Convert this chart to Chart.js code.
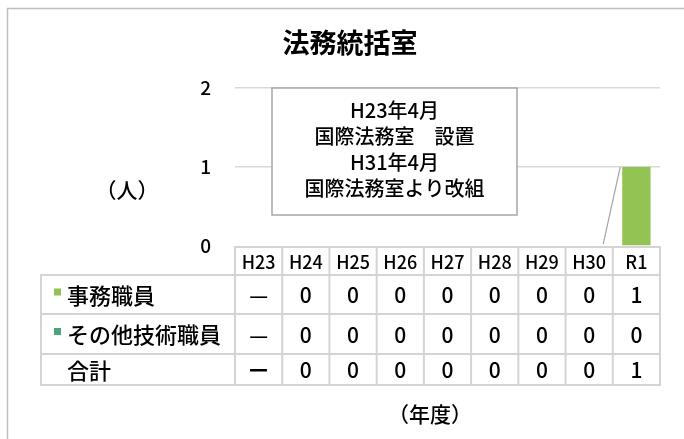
<!DOCTYPE html>
<html lang="ja">
<head>
<meta charset="utf-8">
<script src="https://cdn.jsdelivr.net/npm/chart.js@4"></script>
<style>
  html, body { margin: 0; padding: 0; background: #fff; }
  #wrap { position: relative; width: 684px; height: 439px; }
</style>
</head>
<body>
<div id="wrap"><canvas id="chart" width="684" height="439"></canvas></div>
<script>
// --- Data ---
const years = ['H23', 'H24', 'H25', 'H26', 'H27', 'H28', 'H29', 'H30', 'R1'];
const clerical = [null, 0, 0, 0, 0, 0, 0, 0, 1];
const technical = [null, 0, 0, 0, 0, 0, 0, 0, 0];
const totals = [null, 0, 0, 0, 0, 0, 0, 0, 1];
const rowLabels = ['事務職員', 'その他技術職員', '合計'];
const emptyMarks = ['—', '—', 'ー'];
const yTicks = [0, 1, 2];
const noteLines = ['H23年4月', '国際法務室　設置', 'H31年4月', '国際法務室より改組'];
const chartTitle = '法務統括室';

const FONT = "'Noto Sans CJK JP', 'Noto Sans', sans-serif";
const colors = ['#92c353', '#4aa57a'];

// --- Plugin: frame, title, axis captions, note box and data table ---
const extras = {
    id: 'extras',
    afterDraw(chart) {
        const ctx = chart.ctx;
        const area = chart.chartArea;
        const x = chart.scales.x;
        const y = chart.scales.y;
        const colW = x.getPixelForValue(1) - x.getPixelForValue(0);

        ctx.save();
        // outer frame
        ctx.strokeStyle = '#bfbfbf';
        ctx.lineWidth = 1.5;
        ctx.strokeRect(7.5, 8.5, 720, 500);

        ctx.fillStyle = '#000';
        ctx.textAlign = 'center';
        ctx.textBaseline = 'middle';
        // title
        ctx.font = 'bold 27px ' + FONT;
        ctx.fillText(chartTitle, 350, 43);

        // axis captions
        ctx.font = '500 21px ' + FONT;
        ctx.fillText('（人）', 127, 190);
        ctx.fillText('（年度）', 430, 414);

        // leader line from note to the R1 bar
        const bar = chart.getDatasetMeta(0).data[8];
        ctx.strokeStyle = '#a6a6a6';
        ctx.lineWidth = 1.2;
        ctx.beginPath();
        ctx.moveTo(bar.x - bar.width / 2 - 2, y.getPixelForValue(1));
        ctx.lineTo(bar.x - bar.width / 2 - 19, y.getPixelForValue(0) - 2);
        ctx.stroke();

        // note box
        const bx = area.left + 37, by = y.getPixelForValue(2), bw = 245, bh = 127;
        ctx.fillStyle = '#fff';
        ctx.fillRect(bx, by, bw, bh);
        ctx.strokeStyle = '#a6a6a6';
        ctx.lineWidth = 1.5;
        ctx.strokeRect(bx, by, bw, bh);
        ctx.fillStyle = '#000';
        ctx.font = '500 20px ' + FONT;
        noteLines.forEach((t, i) => ctx.fillText(t, bx + bw / 2, by + 22 + i * 26));

        // data table
        const top = area.bottom + 1;
        const headH = 28;
        const rowH = [39, 40, 31];
        const tLeft = 41;
        const colLeft = x.getPixelForValue(0) - colW / 2;
        const tRight = x.getPixelForValue(years.length - 1) + colW / 2;
        ctx.strokeStyle = '#d4d4d4';
        ctx.lineWidth = 2;
        // header row
        ctx.strokeRect(colLeft, top, tRight - colLeft, headH);
        ctx.font = '500 18px ' + FONT;
        years.forEach((yr, i) => {
            const cx = x.getPixelForValue(i);
            ctx.fillText(yr, cx, top + headH / 2 + 1);
            if (i > 0) {
                ctx.beginPath();
                ctx.moveTo(cx - colW / 2, top);
                ctx.lineTo(cx - colW / 2, top + headH);
                ctx.stroke();
            }
        });
        // body rows
        const series = [clerical, technical, totals];
        let ry = top + headH;
        series.forEach((vals, r) => {
            const h = rowH[r];
            ctx.strokeRect(tLeft, ry, tRight - tLeft, h);
            ctx.beginPath();
            ctx.moveTo(colLeft, ry);
            ctx.lineTo(colLeft, ry + h);
            ctx.stroke();
            // row label with legend key
            if (r < 2) {
                ctx.fillStyle = colors[r];
                ctx.fillRect(tLeft + 13, ry + h / 2 - 6, 7, 7);
            }
            ctx.fillStyle = '#000';
            ctx.textAlign = 'left';
            ctx.font = '500 22px ' + FONT;
            ctx.fillText(rowLabels[r], tLeft + 26, ry + h / 2 + 1);
            ctx.textAlign = 'center';
            ctx.font = '500 21px ' + FONT;
            vals.forEach((v, i) => {
                const cx = x.getPixelForValue(i);
                ctx.fillText(v === null ? emptyMarks[r] : String(v), cx, ry + h / 2 + 1);
                if (i > 0) {
                    ctx.beginPath();
                    ctx.moveTo(cx - colW / 2, ry);
                    ctx.lineTo(cx - colW / 2, ry + h);
                    ctx.stroke();
                }
            });
            ry += h;
        });
        ctx.restore();
    }
};

new Chart(document.getElementById('chart'), {
    type: 'bar',
    data: {
        labels: years,
        datasets: [
            { label: rowLabels[0], data: clerical, backgroundColor: colors[0] },
            { label: rowLabels[1], data: technical, backgroundColor: colors[1] }
        ]
    },
    options: {
        responsive: false,
        animation: false,
        layout: { padding: { left: 195, right: 24, bottom: 193, top: 88 } },
        datasets: { bar: { categoryPercentage: 1, barPercentage: 0.6 } },
        scales: {
            x: { display: false, stacked: true },
            y: {
                stacked: true,
                min: 0,
                max: 2,
                afterFit: (s) => { s.width = 40; },
                afterBuildTicks: (s) => { s.ticks = yTicks.map(v => ({ value: v })); },
                border: { display: false },
                grid: { color: (c) => c.tick.value === 0 ? 'rgba(0,0,0,0)' : '#d9d9d9', lineWidth: 1.5, drawTicks: false },
                ticks: { color: '#000', padding: 24, font: { family: FONT, size: 19, weight: '500' } }
            }
        },
        plugins: {
            legend: { display: false },
            tooltip: { enabled: false },
            title: { display: false }
        }
    },
    plugins: [extras]
});
</script>
</body>
</html>
